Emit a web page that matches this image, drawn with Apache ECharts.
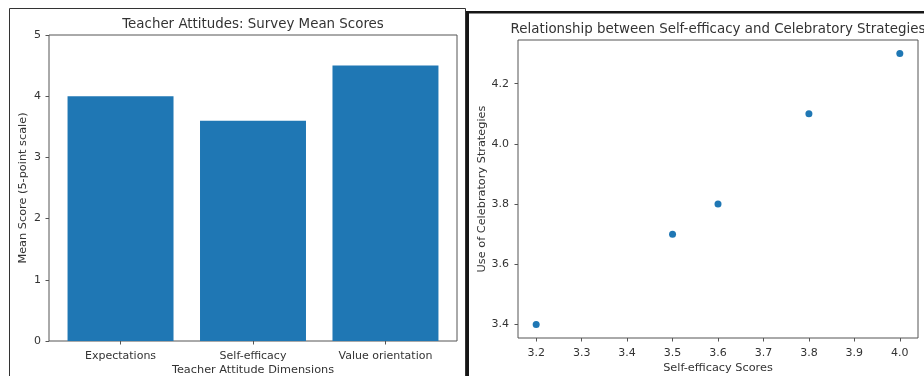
<!DOCTYPE html>
<html>
<head>
<meta charset="utf-8">
<script src="https://cdn.jsdelivr.net/npm/echarts@6/dist/echarts.min.js"></script>
<style>
  html, body { margin: 0; padding: 0; background: #fff; }
  #chart { width: 924px; height: 376px; }
</style>
</head>
<body>
<div id="chart"></div>
<script>
// Survey means per teacher attitude dimension
const categories = ['Expectations', 'Self-efficacy', 'Value orientation'];
const meanScores = [4.0, 3.6, 4.5];
const barTicks = [0, 1, 2, 3, 4, 5];

// Self-efficacy vs. use of celebratory strategies
const selfEfficacy = [3.2, 3.5, 3.6, 3.8, 4.0];
const celebratory = [3.4, 3.7, 3.8, 4.1, 4.3];
const scatterXTicks = [3.2, 3.3, 3.4, 3.5, 3.6, 3.7, 3.8, 3.9, 4.0];
const scatterYTicks = [3.4, 3.6, 3.8, 4.0, 4.2];

const FONT = 'DejaVu Sans';
const TEXT = '#333';
const SPINE = '#555';
const BLUE = '#1f77b4';

// plot rectangles
const g0 = { left: 49, top: 35, width: 408, height: 306 };
const g1 = { left: 518, top: 40, width: 400, height: 298 };

// bar x-range padded like a 0.8-wide bar layout with 5% margins
const barXMin = -0.54, barXMax = 2.54;
const barPx = 0.8 * g0.width / (barXMax - barXMin);

const tickStyle = { show: true, inside: false, length: 3.5, lineStyle: { color: SPINE, width: 1 } };
const labelStyle = { color: TEXT, fontFamily: FONT, fontSize: 11 };
const nameStyle = { color: TEXT, fontFamily: FONT, fontSize: 11.3 };
const titleStyle = { color: TEXT, fontFamily: FONT, fontSize: 13.4, fontWeight: 'normal' };
const hiddenLine = { show: false, onZero: false };
const gridBase = {
  show: true, borderColor: SPINE, borderWidth: 1, backgroundColor: 'transparent',
  containLabel: false, outerBoundsMode: 'none'
};

const chart = echarts.init(document.getElementById('chart'), null, { renderer: 'canvas' });
chart.setOption({
  animation: false,
  backgroundColor: '#fff',
  title: [
    {
      text: 'Teacher Attitudes: Survey Mean Scores',
      left: g0.left + g0.width / 2, top: 18, textAlign: 'center', padding: 0,
      textStyle: titleStyle
    },
    {
      text: 'Relationship between Self-efficacy and Celebratory Strategies',
      left: g1.left + g1.width / 2, top: 23, textAlign: 'center', padding: 0,
      textStyle: titleStyle
    }
  ],
  grid: [
    Object.assign({}, gridBase, g0),
    Object.assign({}, gridBase, g1)
  ],
  xAxis: [
    {
      gridIndex: 0, type: 'value', min: barXMin, max: barXMax, position: 'bottom',
      splitLine: { show: false }, axisLine: hiddenLine,
      axisTick: Object.assign({ customValues: [0, 1, 2] }, tickStyle),
      axisLabel: Object.assign({ customValues: [0, 1, 2], margin: 10,
        formatter: v => categories[Math.round(v)] }, labelStyle),
      name: 'Teacher Attitude Dimensions', nameLocation: 'middle', nameGap: 24,
      nameMoveOverlap: false, nameTextStyle: nameStyle
    },
    {
      gridIndex: 1, type: 'value', min: 3.16, max: 4.04, position: 'bottom',
      splitLine: { show: false }, axisLine: hiddenLine,
      axisTick: Object.assign({ customValues: scatterXTicks }, tickStyle),
      axisLabel: Object.assign({ customValues: scatterXTicks, margin: 10,
        formatter: v => v.toFixed(1) }, labelStyle),
      name: 'Self-efficacy Scores', nameLocation: 'middle', nameGap: 24.5,
      nameMoveOverlap: false, nameTextStyle: nameStyle
    }
  ],
  yAxis: [
    {
      gridIndex: 0, type: 'value', min: 0, max: 5, position: 'left',
      splitLine: { show: false }, axisLine: hiddenLine,
      axisTick: Object.assign({ customValues: barTicks }, tickStyle),
      axisLabel: Object.assign({ customValues: barTicks, margin: 8,
        formatter: v => String(v) }, labelStyle),
      name: 'Mean Score (5-point scale)', nameLocation: 'middle', nameGap: 20,
      nameMoveOverlap: false, nameTextStyle: nameStyle
    },
    {
      gridIndex: 1, type: 'value', min: 3.355, max: 4.345, position: 'left',
      splitLine: { show: false }, axisLine: hiddenLine,
      axisTick: Object.assign({ customValues: scatterYTicks }, tickStyle),
      axisLabel: Object.assign({ customValues: scatterYTicks, margin: 9,
        formatter: v => v.toFixed(1) }, labelStyle),
      name: 'Use of Celebratory Strategies', nameLocation: 'middle', nameGap: 30,
      nameMoveOverlap: false, nameTextStyle: nameStyle
    }
  ],
  series: [
    {
      type: 'bar', xAxisIndex: 0, yAxisIndex: 0,
      barWidth: barPx,
      itemStyle: { color: BLUE },
      data: meanScores.map((v, i) => [i, v])
    },
    {
      type: 'scatter', xAxisIndex: 1, yAxisIndex: 1,
      symbol: 'circle', symbolSize: 7,
      itemStyle: { color: BLUE, opacity: 1 },
      data: selfEfficacy.map((x, i) => [x, celebratory[i]])
    }
  ],
  graphic: [
    // outline of the left panel
    { type: 'rect', silent: true, z: 100,
      shape: { x: 9.5, y: 8.5, width: 456, height: 380 },
      style: { fill: 'none', stroke: '#333', lineWidth: 1 } },
    // heavy edge around the right panel
    { type: 'rect', silent: true, z: 100,
      shape: { x: 466, y: 11, width: 3, height: 370 },
      style: { fill: '#161616' } },
    { type: 'rect', silent: true, z: 100,
      shape: { x: 466, y: 11, width: 460, height: 2.5 },
      style: { fill: '#161616' } }
  ]
});
</script>
</body>
</html>
